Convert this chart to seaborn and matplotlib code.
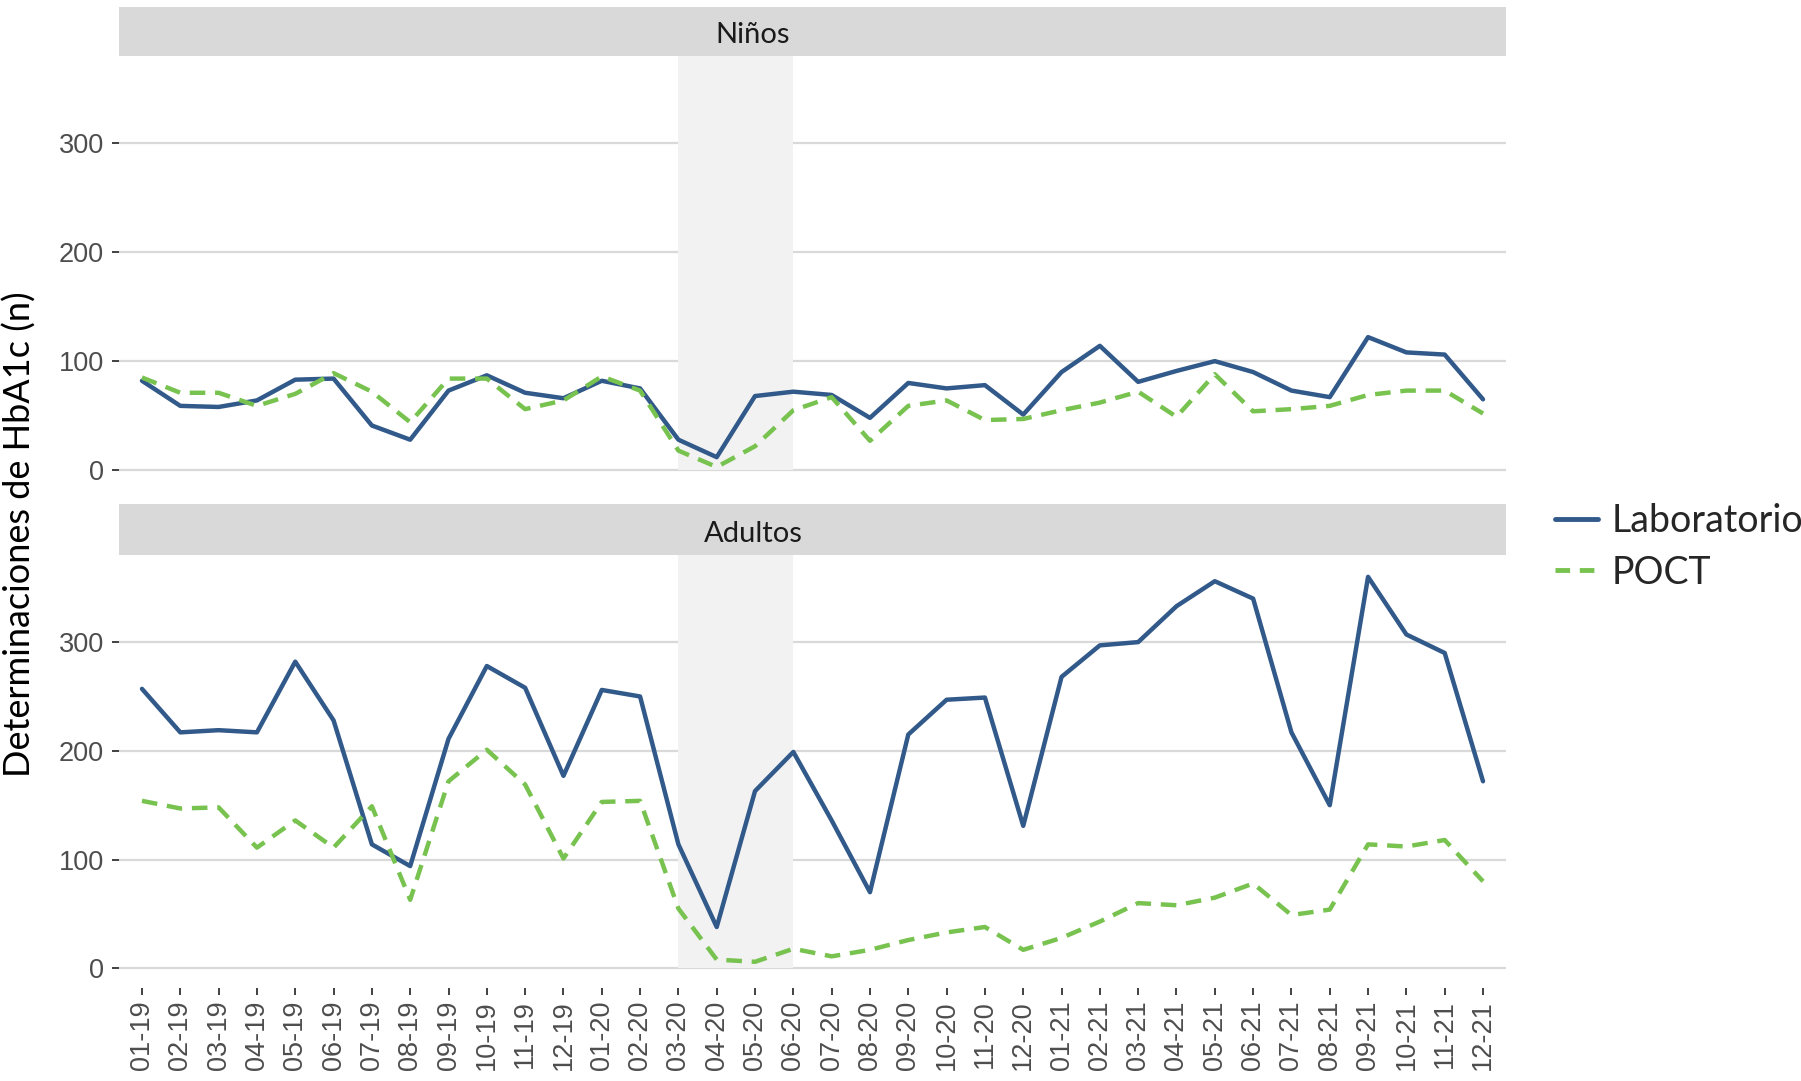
import matplotlib
matplotlib.use("Agg")
import matplotlib.pyplot as plt
from matplotlib.lines import Line2D
import numpy as np
import pandas as pd
import seaborn as sns

meses = [
    "01-19", "02-19", "03-19", "04-19", "05-19", "06-19", "07-19", "08-19", "09-19", "10-19", "11-19", "12-19",
    "01-20", "02-20", "03-20", "04-20", "05-20", "06-20", "07-20", "08-20", "09-20", "10-20", "11-20", "12-20",
    "01-21", "02-21", "03-21", "04-21", "05-21", "06-21", "07-21", "08-21", "09-21", "10-21", "11-21", "12-21",
]

lab_ninos = [82, 59, 58, 64, 83, 84, 41, 28, 73, 87, 71, 66,
             82, 75, 28, 12, 68, 72, 69, 48, 80, 75, 78, 51,
             90, 114, 81, 91, 100, 90, 73, 67, 122, 108, 106, 65]
poct_ninos = [85, 71, 71, 59, 70, 89, 72, 44, 84, 84, 56, 64,
              86, 73, 18, 3, 22, 55, 67, 27, 59, 64, 46, 47,
              55, 62, 72, 49, 88, 54, 56, 59, 69, 73, 73, 52]
lab_adultos = [257, 217, 219, 217, 282, 228, 114, 94, 211, 278, 258, 177,
               256, 250, 114, 38, 163, 199, 136, 70, 215, 247, 249, 131,
               268, 297, 300, 333, 356, 340, 217, 150, 360, 307, 290, 172]
poct_adultos = [154, 147, 148, 111, 136, 111, 149, 63, 172, 201, 169, 101,
                153, 154, 55, 8, 6, 18, 11, 17, 26, 33, 38, 17,
                28, 43, 60, 58, 65, 78, 49, 54, 114, 112, 118, 80]

grupos = ["Niños", "Adultos"]
tipos = ["Laboratorio", "POCT"]
pandemia = ("03-20", "06-20")

rows = []
for grupo, lab, poct in [("Niños", lab_ninos, poct_ninos), ("Adultos", lab_adultos, poct_adultos)]:
    for m, a, b in zip(meses, lab, poct):
        rows.append((grupo, m, "Laboratorio", a))
        rows.append((grupo, m, "POCT", b))
df = pd.DataFrame(rows, columns=["grupo", "mes", "tipo", "n"])
df = df.sort_values(["grupo", "tipo"], kind="stable")

sns.set_theme(style="white")
plt.rcParams["font.family"] = ["Liberation Sans", "DejaVu Sans"]

colores = {"Laboratorio": "#31598a", "POCT": "#78c24f"}
guiones = {"Laboratorio": "", "POCT": (3.5, 2.2)}

fig = plt.figure(figsize=(18.01, 10.81), dpi=100)
H = 1081.0
W = 1801.0
left = 119 / W
width = (1506 - 119) / W
ylo, yhi = -18.1, 380.1
paneles = {
    "Niños": (55.5, 490, 7, 55.5),
    "Adultos": (555, 988, 504, 555),
}

for i, grupo in enumerate(grupos):
    top, bot, s_top, s_bot = paneles[grupo]
    ax = fig.add_axes([left, 1 - bot / H, width, (bot - top) / H])
    sub = df[df["grupo"] == grupo]
    sns.lineplot(data=sub, x="mes", y="n", hue="tipo", style="tipo",
                 palette=colores, dashes=guiones, sort=False,
                 linewidth=3.2, ax=ax, legend=False, zorder=3)
    # periodo de confinamiento, sombreado desde 0 hasta arriba
    x0 = meses.index(pandemia[0])
    x1 = meses.index(pandemia[1])
    ax.axvspan(x0, x1, ymin=(0 - ylo) / (yhi - ylo), ymax=1, color="#f2f2f2", zorder=1, lw=0)
    ax.set_axisbelow(True)
    ax.yaxis.grid(True, color="#d9d9d9", lw=1.6, zorder=0)
    ax.xaxis.grid(False)
    ax.set_xlim(-0.6, len(meses) - 0.4)
    ax.set_ylim(ylo, yhi)
    ax.set_yticks([0, 100, 200, 300])
    for s in ax.spines.values():
        s.set_visible(False)
    ax.set_xlabel("")
    ax.set_ylabel("")
    ax.tick_params(axis="y", left=True, length=5, width=1.3, color="#333333",
                   labelsize=19.5, labelcolor="#4d4d4d", pad=6)
    if i == 0:
        ax.tick_params(axis="x", bottom=False, labelbottom=False)
    else:
        ax.tick_params(axis="x", bottom=True, length=5, width=1.3, color="#333333",
                       labelsize=19.5, labelcolor="#4d4d4d", pad=4, labelrotation=90)

    sax = fig.add_axes([left, 1 - s_bot / H, width, (s_bot - s_top) / H])
    sax.set_facecolor("#d9d9d9")
    sax.set_xticks([])
    sax.set_yticks([])
    for s in sax.spines.values():
        s.set_visible(False)
    sax.text(0.457, 0.42, grupo, ha="center", va="center", fontsize=21,
             family=["Lato", "DejaVu Sans"], color="#1a1a1a", transform=sax.transAxes)

fig.text(0.011, 0.506, "Determinaciones de HbA1c (n)", rotation=90, ha="center", va="center",
         fontsize=26, family=["Lato", "DejaVu Sans"], color="black")

handles = [Line2D([], [], color=colores[t], lw=3.5,
                  linestyle="-" if t == "Laboratorio" else (0, (3, 2))) for t in tipos]
fig.legend(handles, tipos, loc="center left", bbox_to_anchor=(1555 / W, 1 - 547 / H),
           frameon=False, handlelength=1.15, handletextpad=0.35, labelspacing=0.4,
           borderaxespad=0, borderpad=0, prop={"family": ["Lato", "DejaVu Sans"], "size": 27})

fig.savefig("out.png", dpi=100, facecolor="white")
